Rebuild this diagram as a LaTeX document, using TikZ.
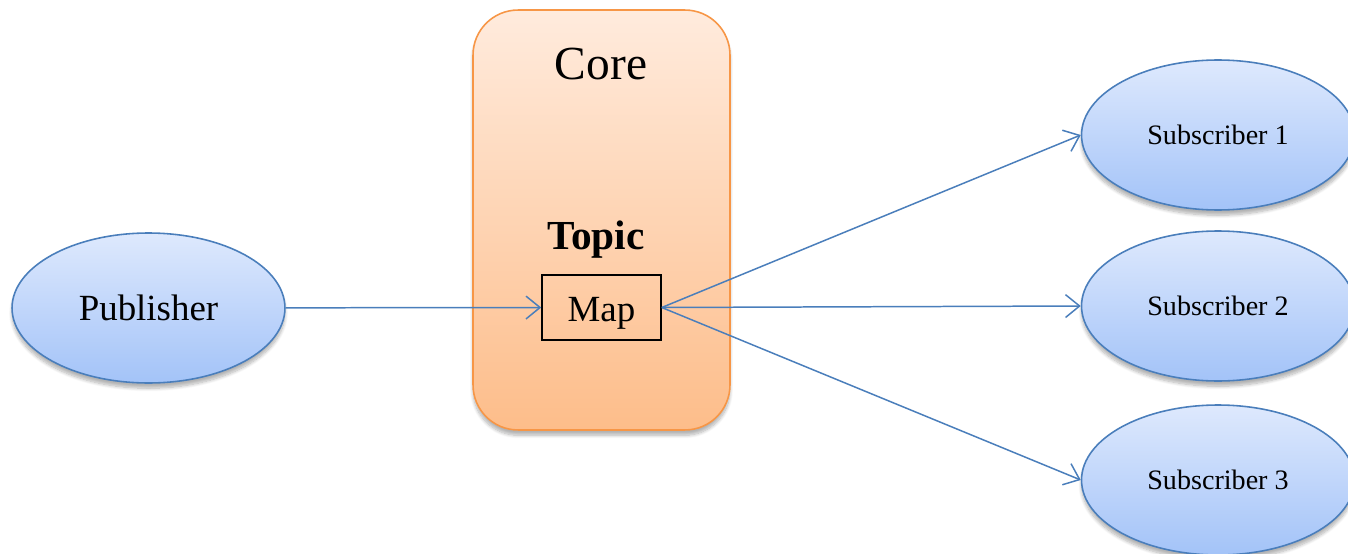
\documentclass[tikz,border=0pt]{standalone}
\usepackage{fontspec}
\setmainfont{Liberation Serif}
\usepackage{tikz}
\usetikzlibrary{arrows.meta, shapes, shadows.blur}

\definecolor{subtop}{HTML}{DEE9FD}
\definecolor{subbottom}{HTML}{A3C3F8}
\definecolor{subline}{HTML}{4A7EBB}
\definecolor{coretop}{HTML}{FFEBDD}
\definecolor{corebottom}{HTML}{FDBD8A}
\definecolor{coreline}{HTML}{F79646}
\definecolor{arrowblue}{HTML}{4A7EBB}

\begin{document}
\begin{tikzpicture}[x=0.02cm, y=-0.02cm]
            \useasboundingbox (0,0) rectangle (1348,554);

            % core box with its two headings
            \node[rounded corners=0.9cm, draw=coreline, line width=0.9pt,
                  top color=coretop, bottom color=corebottom,
                  minimum width=5.14cm, minimum height=8.4cm,
                  blur shadow={shadow xshift=0pt, shadow yshift=-3pt, shadow opacity=30, shadow blur steps=8}]
                  (core) at (601.5,220) {};
            \node[font=\fontsize{27pt}{30pt}\selectfont, anchor=base] (corelabel) at (601,80) {Core};
            \node[font=\fontsize{23.5pt}{26pt}\selectfont\bfseries, anchor=base] (topic) at (596,249) {Topic};
            \node[draw=black, line width=0.9pt, minimum width=2.38cm, minimum height=1.3cm,
                  text height=0.55cm, text depth=0pt,
                  font=\fontsize{21pt}{24pt}\selectfont] (map) at (601.5,307.5) {Map};

            \begin{scope}[every node/.style={ellipse, draw=subline, line width=0.9pt,
                          top color=subtop, bottom color=subbottom,
                          minimum width=5.46cm, minimum height=3.0cm, inner sep=0pt,
                          blur shadow={shadow xshift=0pt, shadow yshift=-3pt, shadow opacity=30, shadow blur steps=8}}]
                \node[font=\fontsize{21pt}{24pt}\selectfont] (pub) at (148.5,308) {Publisher};
                \node[font=\fontsize{16pt}{19pt}\selectfont] (sub1) at (1218,135) {Subscriber 1};
                \node[font=\fontsize{16pt}{19pt}\selectfont] (sub2) at (1218,306) {Subscriber 2};
                \node[font=\fontsize{16pt}{19pt}\selectfont] (sub3) at (1218,480) {Subscriber 3};
            \end{scope}

            \begin{scope}[>={Straight Barb[length=8pt, width=13pt]},
                          every edge/.style={draw=arrowblue, line width=0.85pt}]
                \path[->] (pub) edge (map.west);
                \path[->] (map.east) edge (sub1.west);
                \path[->] (map.east) edge (sub2.west);
                \path[->] (map.east) edge (sub3.west);
            \end{scope}

\end{tikzpicture}
\end{document}
